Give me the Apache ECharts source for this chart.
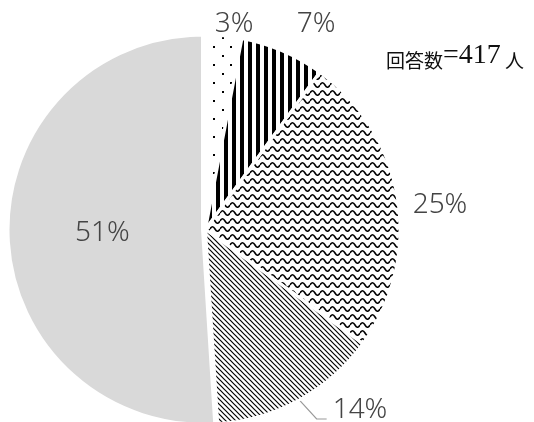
<!DOCTYPE html>
<html>
<head>
<meta charset="utf-8">
<script src="https://cdn.jsdelivr.net/npm/echarts@6/dist/echarts.min.js"></script>
<style>
  html, body { margin: 0; padding: 0; background: #fff; }
  #chart { width: 534px; height: 422px; }
</style>
</head>
<body>
<div id="chart"></div>
<script>
// Survey answer shares, clockwise from 12 o'clock
const categories = ['A', 'B', 'C', 'D', 'E'];
const shares = [3, 7, 25, 14, 51];
const respondents = 417;

// --- fill patterns -------------------------------------------------------
function tile(w, h, draw) {
  const c = document.createElement('canvas');
  c.width = w; c.height = h;
  const g = c.getContext('2d');
  g.fillStyle = '#fff';
  g.fillRect(0, 0, w, h);
  draw(g);
  return { image: c, repeat: 'repeat' };
}

const dots = tile(17, 18, g => {
  g.fillStyle = '#000';
  g.fillRect(1, 1, 2, 2);
  g.fillRect(9, 10, 2, 2);
});

const vstripes = tile(8, 8, g => {
  g.fillStyle = '#000';
  g.fillRect(0, 0, 4, 8);
});

const waves = tile(10, 8, g => {
  g.strokeStyle = '#000';
  g.lineWidth = 1.6;
  g.beginPath();
  g.moveTo(0, 5);
  g.quadraticCurveTo(2.5, 0.5, 5, 5);
  g.quadraticCurveTo(7.5, 9.5, 10, 5);
  g.stroke();
});

const diagonal = tile(5, 5, g => {
  g.strokeStyle = '#000';
  g.lineWidth = 1.2;
  g.beginPath();
  g.moveTo(-1, -1); g.lineTo(6, 6);
  g.moveTo(-1, 4); g.lineTo(1, 6);
  g.moveTo(4, -1); g.lineTo(6, 1);
  g.stroke();
});

const fills = [dots, vstripes, waves, diagonal, '#d9d9d9'];

// label anchor points (text centres) for each slice
const labelSpots = [[234, 24], [316, 24], [440, 205], [360, 410], [121, 239]];

const chart = echarts.init(document.getElementById('chart'), null, { renderer: 'canvas' });

const labelFont = {
  fontFamily: '"Noto Sans", sans-serif',
  fontSize: 28,
  fontWeight: 300,
  color: '#444'
};

chart.setOption({
  animation: false,
  backgroundColor: '#fff',
  title: {
    right: 5,
    top: 37,
    text: '{a|回答数}{b|=' + respondents + '}{a| 人}',
    textStyle: {
      fontWeight: 'normal',
      rich: {
        a: { fontFamily: '"Noto Sans CJK JP"', fontSize: 19, fontWeight: 'normal', color: '#111', verticalAlign: 'bottom' },
        b: { fontFamily: '"Liberation Serif", serif', fontSize: 28, fontWeight: 'normal', color: '#111', verticalAlign: 'bottom' }
      }
    }
  },
  series: [{
    type: 'pie',
    center: [205.5, 229.5],
    radius: 194.5,
    startAngle: 90,
    clockwise: true,
    avoidLabelOverlap: false,
    selectedMode: 'single',
    selectedOffset: 3,
    itemStyle: { borderColor: '#fff', borderWidth: 3 },
    select: { itemStyle: { borderColor: '#fff', borderWidth: 3 } },
    emphasis: { disabled: true },
    label: Object.assign({ show: true, position: 'outside', formatter: '{d}%' }, labelFont),
    labelLine: { show: false },
    labelLayout: function (p) {
      const s = labelSpots[p.dataIndex];
      const out = { x: s[0], y: s[1], align: 'center', verticalAlign: 'middle' };
      if (p.dataIndex === 3) {
        const w = p.labelRect.width, h = p.labelRect.height;
        const endX = s[0] - w / 2 - 6;
        const endY = s[1] + h / 2 - 5;
        let start = p.labelLinePoints ? p.labelLinePoints[0] : [300, 398];
        out.labelLinePoints = [start, [endX - 10, endY], [endX, endY]];
      }
      return out;
    },
    data: categories.map((c, i) => {
      const item = { name: c, value: shares[i], itemStyle: { color: fills[i] } };
      if (i === 3) {
        item.labelLine = { show: true, length: 20, length2: 14, lineStyle: { color: '#999', width: 1.2 } };
      }
      if (i === 4) {
        item.selected = true;
        item.label = { position: 'inside' };
      }
      return item;
    })
  }]
});
</script>
</body>
</html>
